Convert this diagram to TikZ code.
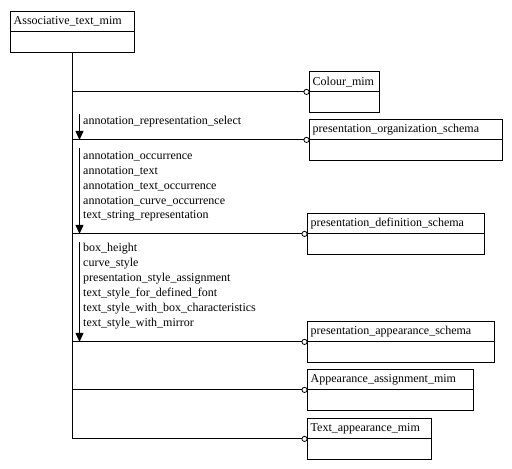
\documentclass[tikz,border=0pt]{standalone}
\usepackage{fontspec}
\setmainfont{Liberation Serif}
\usetikzlibrary{arrows.meta,positioning}

% entity box: name, x, y, text width, title
\newcommand{\entity}[5]{%
  \node[entbox, text width=#4, anchor=north west] (#1) at (#2,#3) {#5};
  \node[entbox, text width=#4, anchor=north] (#1-lo) at (#1.south) {};
  \draw[line width=1pt] (#1.north west) rectangle (#1-lo.south east);
  \draw[line width=1pt] (#1.south west) -- (#1.south east);
}

\begin{document}
\begin{tikzpicture}[
    x=1pt, y=-1pt,
    every node/.style={font=\fontsize{12}{15}\selectfont},
    entbox/.style={rectangle, minimum height=20pt, inner xsep=3pt, inner ysep=0pt, align=left},
    link/.style={line width=1pt, -{Circle[open, length=6pt, width=6pt, line width=0.8pt]}},
    refarrow/.style={line width=1pt, -{Triangle[length=9pt, width=8pt]}},
    lbl/.style={anchor=west, inner sep=0pt}
]
    \useasboundingbox (0,0) rectangle (512,469);

    % Entity boxes
    \entity{assoc}{10.5}{11.5}{118pt}{Associative\_text\_mim}
    \entity{colour}{309.5}{71.5}{64pt}{Colour\_mim}
    \entity{org}{309.5}{119.5}{187pt}{presentation\_organization\_schema}
    \entity{def}{307.5}{213.5}{171pt}{presentation\_definition\_schema}
    \entity{app}{307.5}{321.5}{181pt}{presentation\_appearance\_schema}
    \entity{assign}{307.5}{369.5}{160pt}{Appearance\_assignment\_mim}
    \entity{txt}{307.5}{418.5}{118pt}{Text\_appearance\_mim}

    % Trunk
    \coordinate (tEnd) at (assoc-lo.south |- txt.south);
    \draw[line width=1pt] (assoc-lo.south) -- (tEnd);

    % Links to referenced schemas
    \foreach \n in {colour, org, def, app, assign, txt} {
        \draw[link] (assoc-lo.south |- \n.south) -- (\n.south west);
    }

    % Referenced items
    \coordinate (a1) at (79.5,114);
    \coordinate (a2) at (79.5,148);
    \coordinate (a3) at (79.5,242);
    \draw[refarrow] (a1) -- (a1 |- org.south);
    \draw[refarrow] (a2) -- (a2 |- def.south);
    \draw[refarrow] (a3) -- (a3 |- app.south);

    \node[lbl] (r0) at (83,122) {annotation\_representation\_select};

    \foreach \y/\t [count=\i] in {156/annotation\_occurrence, 171/annotation\_text,
        186/annotation\_text\_occurrence, 201/annotation\_curve\_occurrence,
        216/text\_string\_representation} {
        \node[lbl] (d\i) at (83,\y) {\t};
    }

    \foreach \y/\t [count=\i] in {249/box\_height, 264/curve\_style,
        279/presentation\_style\_assignment, 294/text\_style\_for\_defined\_font,
        309/text\_style\_with\_box\_characteristics, 324/text\_style\_with\_mirror} {
        \node[lbl] (p\i) at (83,\y) {\t};
    }

\end{tikzpicture}
\end{document}
